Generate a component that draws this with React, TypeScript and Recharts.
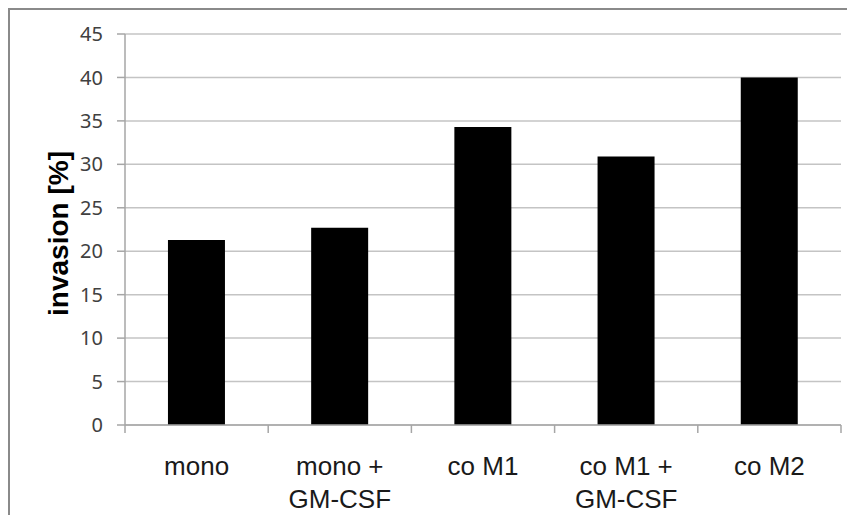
import React from 'react';
import { BarChart, Bar, XAxis, YAxis, CartesianGrid } from 'recharts';

const categories = ['mono', 'mono +\nGM-CSF', 'co M1', 'co M1 +\nGM-CSF', 'co M2'];
const invasion = [21.3, 22.7, 34.3, 30.9, 40.0];
const yTicks = [0, 5, 10, 15, 20, 25, 30, 35, 40, 45];
const yLabel = 'invasion [%]';

const data = categories.map((c, i) => ({ category: c, invasion: invasion[i] }));

const CHART_W = 843;
const CHART_H = 505;
const MARGIN = { top: 24, right: 12, bottom: 0, left: 0 };
const Y_W = 115;
const X_H = 90;
const BAND = (CHART_W - MARGIN.left - MARGIN.right - Y_W) / categories.length;
const AXIS = '#a6a6a6';
const GRID = '#c4c4c4';

function CategoryTick(props: any) {
  const { x, y, payload } = props;
  const index = props.index ?? payload.index;
  const lines = String(payload.value).split('\n');
  const half = BAND / 2;
  return (
    <g>
      <line x1={x - half} x2={x - half} y1={y} y2={y + 8} stroke={AXIS} strokeWidth={1.5} />
      {index === categories.length - 1 && (
        <line x1={x + half} x2={x + half} y1={y} y2={y + 8} stroke={AXIS} strokeWidth={1.5} />
      )}
      <text
        x={x}
        y={y + 50}
        textAnchor="middle"
        fontFamily="'Liberation Sans', Arial, sans-serif"
        fontSize={26}
        fill="#1a1a1a"
      >
        {lines.map((l, i) => (
          <tspan key={i} x={x} dy={i === 0 ? 0 : 33}>
            {l}
          </tspan>
        ))}
      </text>
    </g>
  );
}

function YTitle(props: any) {
  const vb = props.viewBox || {};
  const cx = (vb.x ?? 0) + 48.5;
  const cy = (vb.y ?? 0) + vb.height / 2 + 4;
  return (
    <text
      x={cx}
      y={cy}
      transform={`rotate(-90, ${cx}, ${cy})`}
      textAnchor="middle"
      dominantBaseline="central"
      fontFamily="'Liberation Sans', Arial, sans-serif"
      fontWeight="bold"
      fontSize={28}
      fill="#000"
    >
      {yLabel}
    </text>
  );
}

export default function App() {
  return (
    <div
      style={{
        width: CHART_W,
        height: CHART_H,
        borderLeft: '2px solid #8a8a8a',
        borderTop: '2px solid #8a8a8a',
        background: '#fff',
      }}
    >
      <BarChart width={CHART_W} height={CHART_H} data={data} margin={MARGIN} barCategoryGap="30%">
        <CartesianGrid vertical={false} stroke={GRID} strokeWidth={1.5} />
        <XAxis
          dataKey="category"
          interval={0}
          height={X_H}
          tickLine={false}
          tickSize={0}
          tickMargin={0}
          axisLine={{ stroke: AXIS, strokeWidth: 1.5 }}
          tick={<CategoryTick />}
        />
        <YAxis
          width={Y_W}
          domain={[0, 45]}
          ticks={yTicks}
          interval={0}
          tickSize={8}
          tickMargin={14}
          axisLine={{ stroke: AXIS, strokeWidth: 1.5 }}
          tickLine={{ stroke: AXIS, strokeWidth: 1.5 }}
          tick={{ fill: '#404040', fontSize: 20, fontFamily: "'Noto Sans', sans-serif" }}
          label={<YTitle />}
        />
        <Bar dataKey="invasion" fill="#000" isAnimationActive={false} />
      </BarChart>
    </div>
  );
}
